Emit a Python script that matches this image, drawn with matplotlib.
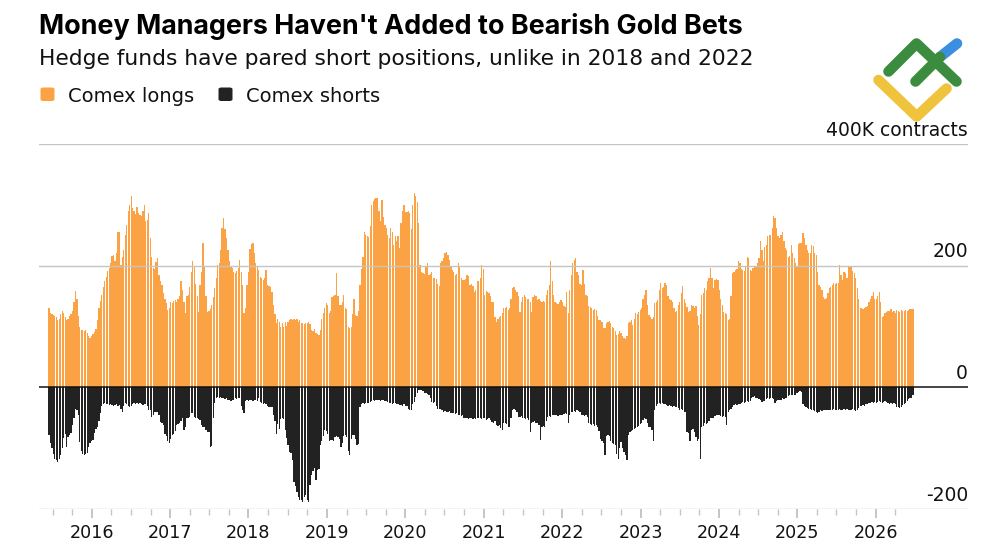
import matplotlib
matplotlib.use("Agg")
import matplotlib.pyplot as plt
from matplotlib.lines import Line2D
from matplotlib.patches import FancyBboxPatch
import numpy as np

plt.rcParams['font.family'] = ['DejaVu Sans']

title = "Money Managers Haven't Added to Bearish Gold Bets"
subtitle = "Hedge funds have pared short positions, unlike in 2018 and 2022"
series_names = ["Comex longs", "Comex shorts"]

# weekly Comex money-manager longs (thousand contracts)
longs = [
    131,122,120,119,118,115,111,112,120,126,
    122,116,110,113,118,120,125,140,158,146,
    118,100,94,95,93,94,90,84,81,84,
    88,91,96,110,130,142,152,165,174,182,
    192,196,205,216,218,207,220,256,255,201,
    215,225,250,267,290,300,314,295,290,285,
    297,287,283,282,290,300,273,275,286,245,
    215,196,195,206,212,185,174,168,155,146,
    138,127,130,141,139,142,144,140,146,150,
    174,160,140,122,150,152,165,190,207,200,
    170,150,124,168,190,237,200,150,124,126,
    128,135,148,163,180,201,205,225,262,278,
    260,245,225,207,200,196,190,188,192,196,
    210,190,168,122,130,168,190,228,235,237,
    220,204,198,193,182,179,176,180,193,168,
    166,165,157,135,120,105,112,108,100,105,
    100,108,101,108,111,112,110,113,110,112,
    108,111,106,105,104,106,105,108,104,95,
    92,96,90,88,86,95,113,122,130,138,
    135,122,125,149,150,152,188,150,135,135,
    140,152,130,128,100,97,99,120,146,119,
    118,125,168,195,215,256,250,248,247,265,
    300,306,310,311,312,290,273,308,280,267,
    262,250,245,262,255,234,248,240,248,229,
    270,290,300,289,288,290,286,260,300,319,
    315,305,270,201,190,188,186,200,204,185,
    186,190,180,179,178,170,166,205,207,212,
    221,222,218,210,200,193,190,185,186,204,
    200,180,177,176,178,185,183,168,170,167,
    157,160,174,175,180,201,195,152,158,157,
    155,150,141,140,115,108,112,116,118,122,
    130,130,132,127,130,145,163,165,160,157,
    150,124,140,149,152,148,146,146,140,124,
    148,152,150,144,145,142,141,142,140,152,
    160,168,207,175,152,140,138,137,140,144,
    140,133,132,157,122,160,185,204,210,212,
    190,185,170,168,193,170,152,150,133,132,
    130,127,128,127,118,111,110,108,97,98,
    105,108,109,106,100,97,92,86,88,92,
    90,84,81,80,85,105,108,110,103,112,
    122,121,124,127,130,145,152,160,135,119,
    115,113,115,138,141,143,160,171,163,165,
    171,168,150,146,143,141,130,124,125,136,
    140,155,166,145,138,132,124,126,135,133,
    130,133,118,103,120,152,155,163,160,174,
    180,196,180,163,177,178,176,160,146,135,
    124,122,120,111,112,150,188,190,193,195,
    207,205,194,193,192,200,215,212,193,192,
    196,199,198,205,212,240,225,207,230,234,
    248,251,250,262,281,278,262,248,245,250,
    256,240,229,225,215,216,234,220,212,205,
    199,236,237,238,253,245,234,226,221,220,
    234,232,220,218,190,168,165,160,148,146,
    147,155,163,165,168,171,170,172,171,201,
    185,177,190,188,179,199,200,197,192,188,
    180,163,145,130,131,128,130,132,133,140,
    146,150,157,146,145,150,157,140,116,118,
    122,124,125,126,129,124,125,123,127,125,
    124,127,126,125,127,126,127,128,128,129,
]

# weekly Comex money-manager shorts (thousand contracts, shown below zero)
shorts = [-v for v in [
    78,92,100,109,118,120,122,118,111,100,
    84,76,98,82,78,75,62,50,35,38,
    46,90,105,110,111,110,108,98,92,89,
    86,75,68,65,55,43,30,27,26,27,
    28,29,28,29,30,29,28,30,29,36,
    40,30,26,27,31,32,30,27,26,27,
    26,27,26,28,29,28,28,30,37,38,
    48,46,40,40,41,45,57,58,62,76,
    80,88,92,85,78,76,72,62,60,58,
    55,51,70,65,51,50,48,43,43,48,
    51,51,52,53,62,65,66,70,73,74,
    98,96,51,26,18,16,17,16,18,17,
    19,18,20,21,22,21,20,18,19,18,
    18,30,38,43,22,21,22,20,21,22,
    21,20,22,18,24,26,27,26,27,30,
    32,33,32,45,55,76,60,68,52,50,
    52,70,84,95,106,108,120,155,162,172,
    180,185,186,188,180,177,186,188,160,144,
    138,133,153,136,135,95,89,80,70,72,
    76,89,87,86,88,82,80,81,85,98,
    92,80,78,82,105,111,85,78,79,85,
    95,93,32,27,26,28,26,25,26,24,
    23,21,22,21,20,21,22,21,20,22,
    23,24,26,25,27,26,25,27,28,29,
    29,30,28,30,31,36,38,37,28,24,
    16,10,4,5,4,6,9,10,11,12,
    18,24,25,24,30,35,36,35,37,40,
    39,41,40,39,42,43,42,44,43,46,
    45,47,46,50,51,50,52,51,50,52,
    51,52,51,50,51,52,50,51,53,52,
    51,54,57,58,56,62,63,62,67,70,
    59,58,60,65,66,50,37,36,38,40,
    48,49,47,50,51,52,50,53,73,58,
    57,56,58,59,62,87,66,64,65,55,
    48,47,49,46,46,45,46,47,46,45,
    46,44,43,44,59,45,41,40,39,40,
    38,39,41,45,46,47,45,48,59,60,
    62,61,63,62,66,72,85,89,92,111,
    80,78,80,88,92,93,95,110,117,100,
    90,100,106,112,120,78,73,72,70,68,
    67,66,63,60,58,53,51,52,58,65,
    66,70,89,38,31,28,26,27,26,27,
    28,29,30,29,31,32,31,33,32,34,
    37,36,38,40,41,73,75,89,70,68,
    74,82,89,85,117,66,64,59,60,58,
    55,51,50,51,47,46,45,46,47,48,
    47,49,62,40,37,36,33,29,28,29,
    28,27,25,24,25,24,23,24,22,17,
    16,15,17,18,19,20,24,23,22,19,
    18,19,18,17,19,26,22,21,20,21,
    18,19,17,18,14,13,13,12,13,12,
    10,7,6,8,28,30,32,34,35,36,
    37,38,39,40,42,40,38,39,37,38,
    37,38,37,38,37,36,37,38,37,36,
    38,37,36,37,36,37,38,37,36,38,
    39,37,34,31,30,29,30,28,27,26,
    25,24,25,24,25,24,23,24,25,24,
    23,24,26,27,26,27,26,28,32,33,
    34,32,29,27,26,23,19,18,17,13,
]]

year_labels = [str(y) for y in range(2016, 2027)]
y_ticks = [400, 200, 0, -200]
y_tick_labels = ["400K contracts", "200", "0", "-200"]

ORANGE = "#fba244"
BLACK = "#222222"
GRID = "#c4c4c4"

W, H = 1000, 545
fig = plt.figure(figsize=(W / 100, H / 100), dpi=100)
fig.patch.set_facecolor("white")

def fx(px):
    return px / W

def fy(py):
    return 1 - py / H

ax = fig.add_axes([fx(39), fy(509), fx(968) - fx(39), fy(144) - fy(509)])
n = len(longs)
x = np.arange(n)
ax.bar(x, longs, width=0.86, color=ORANGE, linewidth=0, zorder=2)
ax.bar(x, shorts, width=0.86, color=BLACK, linewidth=0, zorder=2)

# layout of the category axis (bar index units)
bar_step_px = (913 - 49) / (n - 1)
first_year_idx = (91.7 - 49) / bar_step_px
bars_per_year = 78.4 / bar_step_px
ax.set_xlim((39 - 49) / bar_step_px, (968 - 49) / bar_step_px)
ax.set_ylim(-200, 400)

for v in y_ticks:
    if v == 0:
        continue
    ax.axhline(v, color=GRID, lw=1.0, zorder=3)
ax.axhline(0, color="#111111", lw=1.1, zorder=4)

major = [first_year_idx + k * bars_per_year for k in range(len(year_labels))]
minor = [first_year_idx + q * bars_per_year / 4 for q in range(-2, 4 * (len(year_labels) - 1) + 2) if q % 4 != 0]
ax.set_xticks(major, labels=year_labels)
ax.set_xticks(minor, minor=True)
ax.tick_params(axis="x", which="major", length=6.5, width=1.1, color="#b5b5b5",
               pad=4, labelsize=12.6, labelcolor="#111111")
ax.tick_params(axis="x", which="minor", length=4.2, width=1.0, color="#c4c4c4")
ax.set_yticks([])
for s in ax.spines.values():
    s.set_visible(False)

for v, lab in zip(y_ticks, y_tick_labels):
    ax.annotate(lab, xy=(1, v), xycoords=("axes fraction", "data"),
                xytext=(0, 6), textcoords="offset points",
                ha="right", va="baseline", fontsize=13.5, color="#111111")

fig.text(fx(39), fy(34), title, fontsize=19.4, fontweight="bold",
         ha="left", va="baseline", color="#000000", family=["Inter", "DejaVu Sans"])
fig.text(fx(39), fy(65), subtitle, fontsize=15.7, ha="left", va="baseline",
         color="#111111")

# legend
for (px0, col), name, tx in zip([(40.5, ORANGE), (218.5, BLACK)], series_names, [68, 246]):
    sq = FancyBboxPatch((fx(px0), fy(101)), fx(14), 13.5 / H,
                        boxstyle="round,pad=0,rounding_size=0.003",
                        transform=fig.transFigure, facecolor=col, edgecolor="none")
    fig.add_artist(sq)
    fig.text(fx(tx), fy(101.7), name, fontsize=14.0, ha="left", va="baseline",
             color="#111111")

# corner logo
def stroke(pts, color):
    xs = [fx(p[0]) for p in pts]
    ys = [fy(p[1]) for p in pts]
    fig.add_artist(Line2D(xs, ys, transform=fig.transFigure, color=color,
                          lw=7.6, solid_capstyle="round", solid_joinstyle="round"))

stroke([(878.5, 80), (916.7, 116.5), (946.5, 88.5)], "#f0c33c")
stroke([(940, 57), (957, 43.5)], "#3c8fe0")
stroke([(888.5, 71.5), (916.5, 43.5), (956.5, 81.5)], "#3b8c3f")
stroke([(915.5, 81.5), (940, 57)], "#3b8c3f")

fig.savefig("out.png", dpi=100, facecolor="white")
